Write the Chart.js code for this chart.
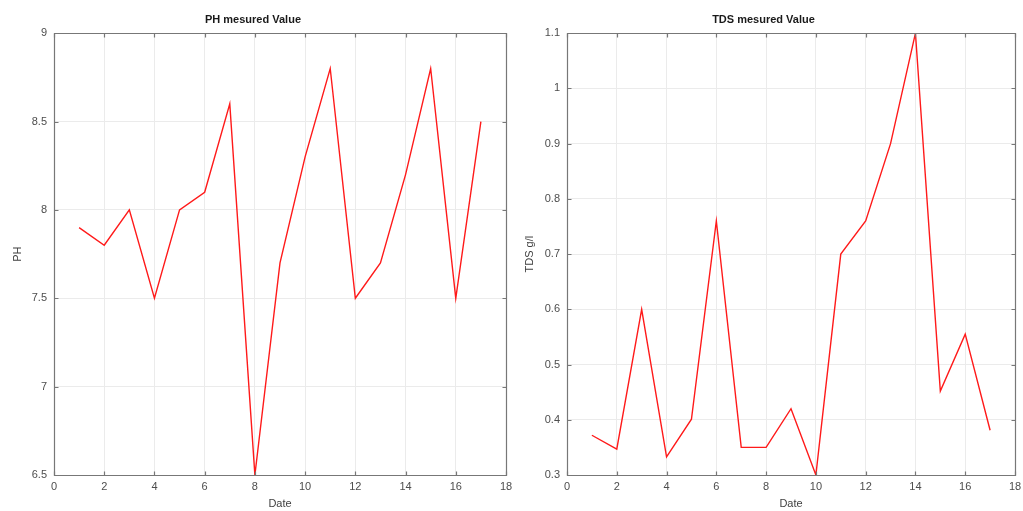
<!DOCTYPE html>
<html>
<head>
<meta charset="utf-8">
<script src="https://cdn.jsdelivr.net/npm/chart.js@4.4.1/dist/chart.umd.min.js"></script>
<style>
  html, body { margin:0; padding:0; background:#fff; width:1023px; height:511px; overflow:hidden; }
  canvas { position:absolute; top:0; }
</style>
</head>
<body>
<canvas id="ph" width="512" height="511" style="left:0px"></canvas>
<canvas id="tds" width="511" height="511" style="left:512px"></canvas>
<script>
const dates = [1,2,3,4,5,6,7,8,9,10,11,12,13,14,15,16,17];
const phValues = [7.9,7.8,8.0,7.5,8.0,8.1,8.6,6.5,7.7,8.3,8.8,7.5,7.7,8.2,8.8,7.5,8.5];
const tdsValues = [0.372,0.347,0.6,0.333,0.401,0.76,0.35,0.35,0.42,0.3,0.7,0.76,0.9,1.1,0.452,0.555,0.381];
const xTicks = [0,2,4,6,8,10,12,14,16,18];
const phTicks = [6.5,7,7.5,8,8.5,9];
const tdsTicks = [0.3,0.4,0.5,0.6,0.7,0.8,0.9,1,1.1];

const FONT = "'Liberation Sans', Arial, Helvetica, sans-serif";

const framePlugin = {
  id: 'frame',
  afterDatasetsDraw(chart) {
    const {ctx, chartArea: a, scales} = chart;
    ctx.save();
    ctx.strokeStyle = '#777777';
    ctx.lineWidth = 1.2;
    const L = Math.round(a.left) + 0.5, R = Math.round(a.right) + 0.5;
    const T = Math.round(a.top) + 0.5, B = Math.round(a.bottom) + 0.5;
    ctx.beginPath();
    ctx.rect(L, T, R - L, B - T);
    ctx.stroke();
    ctx.beginPath();
    const tl = 4;
    scales.x.ticks.forEach(t => {
      const px = Math.round(scales.x.getPixelForValue(t.value)) + 0.5;
      ctx.moveTo(px, B); ctx.lineTo(px, B - tl);
      ctx.moveTo(px, T); ctx.lineTo(px, T + tl);
    });
    scales.y.ticks.forEach(t => {
      const py = Math.round(scales.y.getPixelForValue(t.value)) + 0.5;
      ctx.moveTo(L, py); ctx.lineTo(L + tl, py);
      ctx.moveTo(R, py); ctx.lineTo(R - tl, py);
    });
    ctx.stroke();
    ctx.restore();
  }
};

function makeChart(id, values, yTicks, yTitle, title, yWidth, padRight) {
  return new Chart(document.getElementById(id), {
    type: 'line',
    data: {
      datasets: [{
        data: dates.map((d, i) => ({x: d, y: values[i]})),
        borderColor: '#ff1a1a',
        borderWidth: 1.4,
        pointRadius: 0,
        tension: 0,
        fill: false
      }]
    },
    options: {
      responsive: false,
      animation: false,
      layout: { padding: { left: 0, right: padRight, top: 0, bottom: 0 } },
      plugins: {
        legend: { display: false },
        tooltip: { enabled: false },
        title: {
          display: true,
          text: title,
          color: '#1a1a1a',
          font: { family: FONT, size: 11, weight: 'bold', lineHeight: 1.2 },
          padding: { top: 13, bottom: 7 }
        }
      },
      scales: {
        x: {
          type: 'linear',
          min: 0, max: 18,
          afterBuildTicks: s => { s.ticks = xTicks.map(v => ({value: v})); },
          afterFit: s => { s.height = 36; s.paddingRight = 0; s.paddingLeft = 0; },
          grid: { color: '#ebebeb', drawTicks: false, lineWidth: 1 },
          border: { display: false },
          ticks: { color: '#4d4d4d', font: { family: FONT, size: 11 }, padding: 5, maxRotation: 0, autoSkip: false,
                   callback: v => String(v) },
          title: { display: true, text: 'Date', color: '#404040', font: { family: FONT, size: 11 }, padding: { top: 0, bottom: 0 } }
        },
        y: {
          type: 'linear',
          min: yTicks[0], max: yTicks[yTicks.length - 1],
          afterBuildTicks: s => { s.ticks = yTicks.map(v => ({value: v})); },
          afterFit: s => { s.width = yWidth; s.paddingTop = 0; s.paddingBottom = 0; },
          grid: { color: '#ebebeb', drawTicks: false, lineWidth: 1 },
          border: { display: false },
          ticks: { color: '#4d4d4d', font: { family: FONT, size: 11 }, padding: 7, autoSkip: false,
                   callback: v => String(v) },
          title: { display: true, text: yTitle, color: '#404040', font: { family: FONT, size: 11 }, padding: { top: 11, bottom: 0 } }
        }
      }
    },
    plugins: [framePlugin]
  });
}

makeChart('ph', phValues, phTicks, 'PH', 'PH mesured Value', 54, 6);
makeChart('tds', tdsValues, tdsTicks, 'TDS g/l', 'TDS mesured Value', 55, 8);
</script>
</body>
</html>
